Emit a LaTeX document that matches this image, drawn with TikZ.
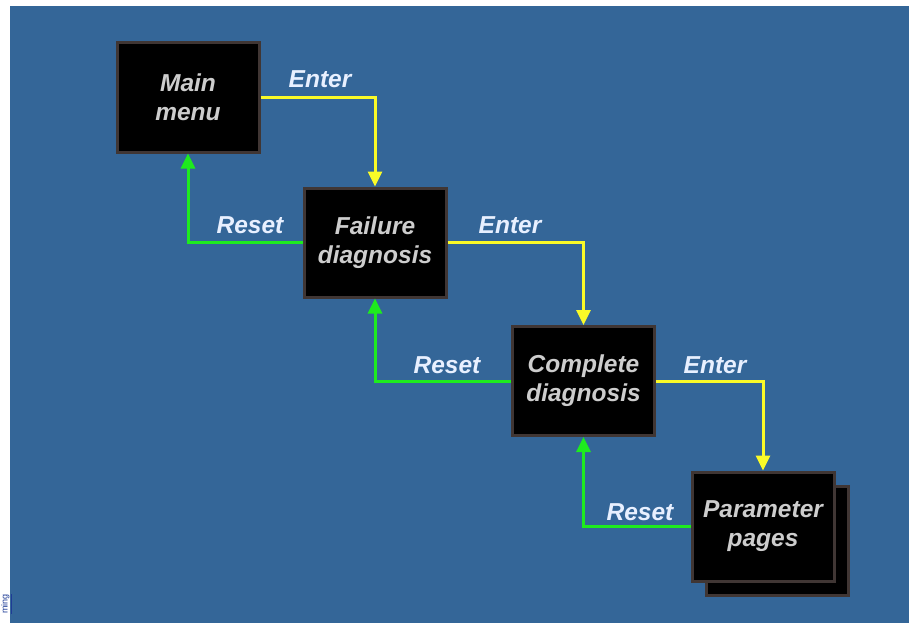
\documentclass[tikz,border=0pt]{standalone}
\usepackage{fontspec}
\setmainfont{Liberation Sans}
\usetikzlibrary{arrows.meta}
\definecolor{bgblue}{RGB}{52,102,152}
\definecolor{boxedge}{RGB}{64,54,52}
\definecolor{boxtext}{RGB}{205,205,205}
\definecolor{labeltext}{RGB}{232,240,255}
\definecolor{enterline}{RGB}{250,250,40}
\definecolor{resetline}{RGB}{30,235,30}
\definecolor{linkblue}{RGB}{30,60,150}
\tikzset{
  statebox/.style={draw=boxedge, line width=3pt, fill=black, minimum width=142pt,
    minimum height=109pt, inner sep=0pt, text=boxtext, align=center,
    font=\fontsize{24.5}{29}\selectfont\bfseries\itshape},
  shadowbox/.style={draw=boxedge, line width=3pt, fill=black, minimum width=142pt,
    minimum height=109pt, inner sep=0pt},
  flowlabel/.style={text=labeltext, anchor=base, inner sep=0pt,
    font=\fontsize{24.5}{29}\selectfont\bfseries\itshape},
  enterarrow/.style={draw=enterline, line width=3pt, -{Triangle[width=14pt,length=15pt]}},
  resetarrow/.style={draw=resetline, line width=3pt, -{Triangle[width=14pt,length=15pt]}}
}
\begin{document}
\begin{tikzpicture}[x=1pt,y=-1pt]
  \useasboundingbox (0,0) rectangle (909,623);
  % page background
  \fill[white] (0,0) rectangle (909,623);
  \fill[bgblue] (10,6) rectangle (909,623);
  % small link text in the left margin, reading upwards
  \node[rotate=90, anchor=base west, inner sep=0pt, text=linkblue,
        font=\fontsize{9}{10}\selectfont] (link) at (7.5,614) {\underline{ming}};

  % states
  \node[statebox] (main) at (188,97.5) {Main\\menu};
  \node[statebox] (fail) at (375,242.5) {Failure\\diagnosis};
  \node[statebox] (comp) at (583.5,381) {Complete\\diagnosis};
  \node[shadowbox] (pageback) at (777,540.5) {};
  \node[statebox] (param) at (763,526.5) {Parameter\\pages};

  % forward transitions
  \draw[enterarrow] (main.east) -| (fail.north);
  \draw[enterarrow] (fail.east) -| (comp.north);
  \draw[enterarrow] (comp.east) -| (param.north);

  % return transitions
  \draw[resetarrow] (fail.west) -| (main.south);
  \draw[resetarrow] (comp.west) -| (fail.south);
  \draw[resetarrow] (param.west) -| (comp.south);

  % transition labels
  \node[flowlabel] (lenter1) at (320,88) {Enter};
  \node[flowlabel] (lenter2) at (510,233) {Enter};
  \node[flowlabel] (lenter3) at (715,373) {Enter};
  \node[flowlabel] (lreset1) at (250,233) {Reset};
  \node[flowlabel] (lreset2) at (447,373) {Reset};
  \node[flowlabel] (lreset3) at (640,520) {Reset};
\end{tikzpicture}
\end{document}
